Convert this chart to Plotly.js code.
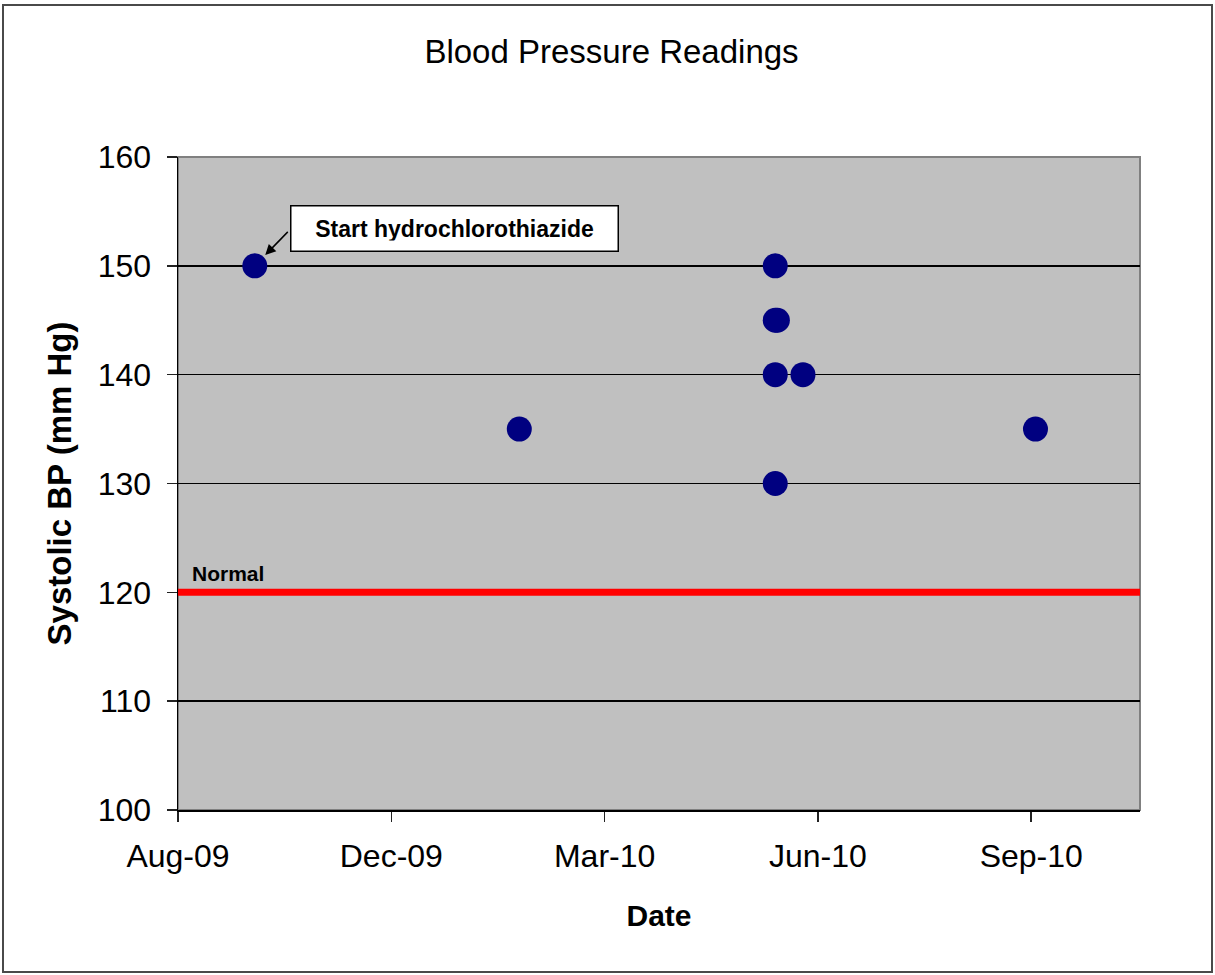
<!DOCTYPE html>
<html>
<head>
<meta charset="utf-8">
<script src="https://cdn.plot.ly/plotly-3.0.1.min.js"></script>
<style>
  html, body { margin: 0; padding: 0; background: #fff; }
  #chart { width: 1215px; height: 975px; }
  #frame { position: absolute; left: 2px; top: 4px; width: 1207px; height: 965px;
           border: 2px solid #4a4a4a; pointer-events: none; }
</style>
</head>
<body>
<div id="chart"></div>
<div id="frame"></div>
<script>
// ---- data ----
const readingDates = ['2009-09-30', '2010-02-01', '2010-06-01', '2010-06-01', '2010-06-02',
                      '2010-06-01', '2010-06-01', '2010-06-14', '2010-10-01'];
const systolicBP   = [150, 135, 150, 145, 145, 140, 130, 140, 135];
const tickDates    = ['2009-08-25', '2009-12-03', '2010-03-13', '2010-06-21', '2010-09-29'];
const tickLabels   = ['Aug-09', 'Dec-09', 'Mar-10', 'Jun-10', 'Sep-10'];
const xRange       = ['2009-08-25', '2010-11-19'];
const normalBP     = 120;
const startDate    = '2009-09-30';
const startBP      = 150;
const startNote    = 'Start hydrochlorothiazide';
const normalNote   = 'Normal';

const FONT = 'Liberation Sans, Arial, sans-serif';

const trace = {
  type: 'scatter',
  mode: 'markers',
  x: readingDates,
  y: systolicBP,
  marker: { color: '#000080', size: 25, line: { width: 0 } },
  hoverinfo: 'x+y',
  showlegend: false
};

const layout = {
  width: 1215,
  height: 975,
  margin: { l: 178, r: 75, t: 157, b: 165, pad: 0 },
  paper_bgcolor: '#ffffff',
  plot_bgcolor: '#c0c0c0',
  font: { family: FONT, color: '#000' },
  title: {
    text: 'Blood Pressure Readings',
    font: { family: FONT, size: 33, color: '#000' },
    xref: 'container', yref: 'container',
    x: 611.5 / 1215, y: 1 - 51 / 975,
    xanchor: 'center', yanchor: 'middle'
  },
  xaxis: {
    type: 'date',
    range: xRange,
    tickvals: tickDates,
    ticktext: tickLabels,
    ticks: 'outside', ticklen: 10, tickwidth: 1.5, tickcolor: '#222',
    ticklabelstandoff: 7,
    tickfont: { family: FONT, size: 32, color: '#000' },
    showgrid: false, zeroline: false,
    showline: true, linecolor: '#000', linewidth: 1.5,
    title: { text: '<b>Date</b>', font: { family: FONT, size: 30, color: '#000' }, standoff: 32 },
    automargin: false, fixedrange: true
  },
  yaxis: {
    range: [100, 160],
    tick0: 100, dtick: 10,
    ticks: 'outside', ticklen: 10, tickwidth: 1.5, tickcolor: '#222',
    ticklabelstandoff: 9,
    tickfont: { family: FONT, size: 32, color: '#000' },
    showgrid: true, gridcolor: '#000', gridwidth: 1.5,
    zeroline: false,
    showline: true, linecolor: '#000', linewidth: 1.5,
    title: { text: '<b>Systolic BP (mm Hg)</b>', font: { family: FONT, size: 33, color: '#000' }, standoff: 16 },
    automargin: false, fixedrange: true
  },
  shapes: [
    { type: 'rect', xref: 'paper', yref: 'paper', x0: 0, x1: 1, y0: 0, y1: 1,
      line: { color: '#808080', width: 2 }, fillcolor: 'rgba(0,0,0,0)', layer: 'between' },
    { type: 'line', xref: 'paper', yref: 'y', x0: 0, x1: 1, y0: normalBP, y1: normalBP,
      line: { color: '#ff0000', width: 7 }, layer: 'above' }
  ],
  annotations: [
    { x: startDate, y: startBP, xref: 'x', yref: 'y',
      text: '<b>' + startNote + '</b>', showarrow: false,
      xanchor: 'left', yanchor: 'middle', xshift: 35, yshift: 37,
      font: { family: FONT, size: 23, color: '#000' },
      bgcolor: '#ffffff', bordercolor: '#000', borderwidth: 1.5, borderpad: 10,
      width: 306, height: 24, align: 'center' },
    { x: startDate, y: startBP, xref: 'x', yref: 'y',
      text: ' ', showarrow: true, ax: 35, ay: -36, axref: 'pixel', ayref: 'pixel',
      arrowhead: 2, arrowsize: 1.4, arrowwidth: 1.5, arrowcolor: '#000', standoff: 15,
      font: { size: 2 } },
    { x: 0, y: normalBP, xref: 'paper', yref: 'y',
      text: '<b>' + normalNote + '</b>', showarrow: false,
      xanchor: 'left', yanchor: 'bottom', xshift: 12, yshift: 5,
      font: { family: FONT, size: 21, color: '#000' } }
  ]
};

Plotly.newPlot('chart', [trace], layout, { displayModeBar: false, staticPlot: true });
</script>
</body>
</html>
